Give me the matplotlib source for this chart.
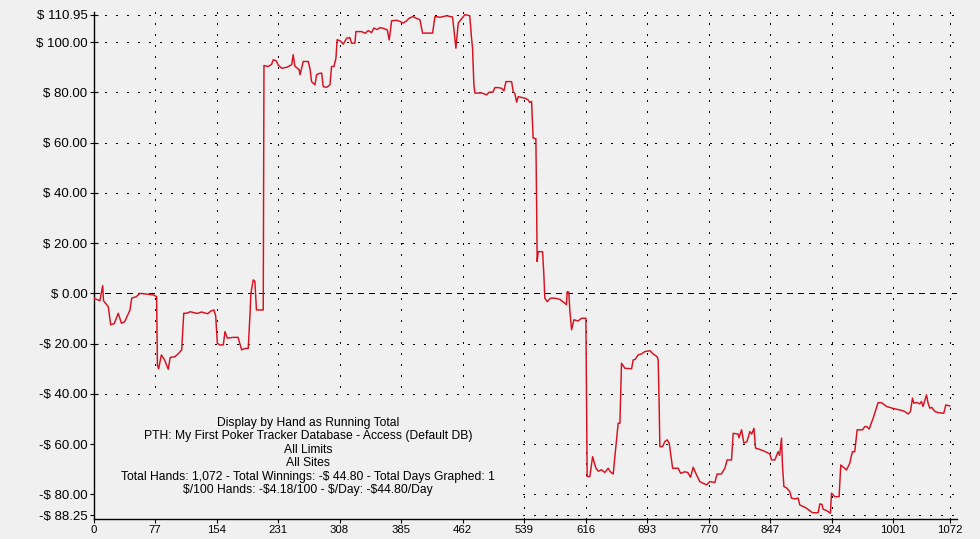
import matplotlib
matplotlib.use('Agg')
import matplotlib.pyplot as plt
from matplotlib.patches import Rectangle

# --- running total (hand number, winnings $) ---
hands = [0, 8, 11.5, 12.5, 18.5, 21.5, 26, 31, 35, 39, 45.7, 47.8, 53.6, 58, 64.5, 75, 79,
         80, 81.5, 85, 89, 93.6, 96, 102, 106.5, 110.4, 113, 117, 121, 130, 135, 143, 147,
         150.8, 153, 155, 158, 162.5, 164.6, 167.5, 175, 181, 183, 185.5, 189.6, 193.7, 196,
         197, 200, 202, 204, 212.5, 213.4, 218.8, 223, 225, 229, 231, 235.5, 242, 248, 250,
         252, 257.5, 258.5, 262.6, 268.8, 271, 273, 277.2, 279.3, 282, 285.6, 287.6, 291.8,
         296, 298, 301, 303.5, 305, 309.4, 312.6, 317, 321, 323, 327.3, 328.5, 335.7, 340,
         344, 348, 351, 355, 358.6, 364.8, 367.7, 370.2, 373.2, 379.5, 384, 387.7, 392, 395,
         400, 404, 408.6, 412, 418, 424.5, 427.4, 434, 442, 449.5, 451, 453.7, 456.6, 460,
         465, 471, 473.3, 474.5, 476.2, 477.5, 485.8, 490, 492, 495.4, 500, 502.5, 507, 511,
         513.8, 516.3, 523.4, 525.4, 527.5, 529.7, 531.7, 536, 540, 544.2, 546, 548.4, 550.4,
         553.8, 554.7, 555.4, 556.7, 562.2, 563.8, 565, 568, 572, 577.6, 584, 590, 592, 593,
         595, 596.4, 598.5, 601.4, 606.6, 611, 616.4, 618, 621.4, 624.8, 629, 632, 636, 640,
         644.3, 647, 650.6, 654, 656.8, 659, 661, 665.2, 673.6, 675.6, 678, 681.8, 686, 690,
         696.5, 700.6, 705.6, 706.9, 708.1, 709, 712.4, 715.3, 718.2, 720.7, 725, 732, 735,
         740.3, 744, 747.4, 750.7, 755, 759, 763.2, 767.5, 771.6, 777.8, 780.7, 785.9, 790.4,
         793.2, 798.7, 800.8, 807, 808, 811.3, 814.2, 818, 821.7, 824, 826.8, 828.8, 835,
         841, 846.7, 848.8, 853, 857, 859, 861.3, 862.6, 864.3, 868, 871.7, 873.8, 878, 882.1,
         884.2, 888, 892.6, 896.8, 900, 907.1, 909.3, 912, 913.4, 918, 922.6, 923.9, 928,
         933.4, 935.5, 940, 942.6, 946.8, 948.5, 950.2, 953, 956, 962.7, 965.6, 968, 971, 976,
         982.2, 986.5, 992.8, 1001, 1009.4, 1015.6, 1019.8, 1022.7, 1025.3, 1027, 1031,
         1034.4, 1036.5, 1038.5, 1040.7, 1042.8, 1044.8, 1047, 1049.5, 1053.2, 1058, 1064.4,
         1067, 1072]
winnings = [-1.9, -2.9, 3.1, -2.9, -5.3, -12.5, -12.0, -7.9, -11.9, -11.3, -6.6, -1.9, -1.3,
            0.0, -0.2, -0.6, -1.3, -28.5, -30.0, -24.5, -26.5, -30.2, -25.5, -25.2, -23.9,
            -22.5, -7.9, -7.9, -7.3, -8.0, -7.4, -8.1, -7.0, -6.6, -9.0, -19.8, -20.5, -20.5,
            -15.2, -17.8, -17.5, -17.5, -19.8, -22.5, -21.9, -21.9, -7.9, 0.0, 5.4, 4.8, -6.6,
            -6.6, 90.7, 90.3, 91.2, 93.0, 92.5, 91.0, 89.6, 90.0, 91.0, 95.0, 90.5, 89.0, 87.0,
            92.3, 92.3, 89.5, 84.3, 83.0, 87.0, 87.5, 87.7, 82.3, 82.0, 83.0, 90.3, 90.3, 93.6,
            101.0, 100.4, 99.2, 101.6, 101.8, 99.6, 99.6, 104.2, 104.2, 103.5, 104.6, 103.8,
            105.6, 105.0, 105.8, 105.3, 104.9, 100.9, 108.5, 108.7, 108.2, 107.6, 108.5, 109.5,
            110.2, 109.5, 108.9, 103.6, 103.6, 103.6, 110.2, 109.9, 110.5, 110.0, 105.6, 97.6,
            107.6, 109.0, 110.95, 110.5, 101.6, 97.6, 83.0, 79.7, 79.8, 79.3, 79.0, 80.1, 80.1,
            81.9, 81.9, 81.6, 80.6, 84.3, 84.3, 80.3, 79.5, 76.1, 78.3, 78.0, 77.7, 77.0, 76.0,
            76.4, 61.8, 61.6, 36.5, 12.7, 16.6, 16.6, 7.4, -1.9, -3.3, -1.9, -1.9, -2.4, -3.9,
            -4.5, 0.7, 0.5, -7.2, -14.5, -10.5, -11.0, -9.9, -9.9, -72.9, -72.9, -65.0, -69.6,
            -70.8, -70.2, -71.3, -69.6, -71.0, -71.9, -61.0, -51.7, -51.7, -27.8, -29.8, -30.0,
            -26.5, -26.3, -24.5, -24.1, -23.2, -22.8, -24.1, -25.2, -26.5, -43.7, -61.0, -61.0,
            -59.0, -58.3, -59.6, -69.6, -69.6, -71.6, -71.0, -71.3, -73.2, -69.2, -72.3, -74.9,
            -75.6, -76.2, -74.9, -75.3, -71.9, -71.9, -69.6, -66.3, -66.3, -55.7, -56.0, -57.5,
            -54.3, -59.6, -59.0, -55.0, -56.0, -53.7, -61.6, -62.2, -63.0, -63.9, -66.3, -66.3,
            -63.0, -64.5, -57.6, -69.0, -76.9, -77.5, -78.9, -81.5, -81.8, -81.5, -84.2, -84.8,
            -85.5, -86.5, -87.3, -87.3, -83.8, -84.0, -85.9, -86.5, -87.5, -79.5, -80.9, -80.9,
            -68.3, -69.5, -70.3, -67.6, -65.0, -63.0, -63.0, -54.3, -54.3, -53.0, -53.0, -54.0,
            -49.7, -43.5, -43.5, -45.0, -45.8, -46.4, -47.0, -48.0, -47.0, -41.7, -43.7, -43.4,
            -44.0, -43.0, -45.0, -42.7, -40.4, -43.7, -45.7, -45.4, -47.0, -47.5, -47.7, -44.4,
            -44.8]

# axis ticks
x_ticks = [0, 77, 154, 231, 308, 385, 462, 539, 616, 693, 770, 847, 924, 1001, 1072]
y_ticks = [-88.25, -80, -60, -40, -20, 0, 20, 40, 60, 80, 100, 110.95]

info_lines = [
    'Display by Hand as Running Total',
    'PTH: My First Poker Tracker Database - Access (Default DB)',
    'All Limits',
    'All Sites',
    'Total Hands: 1,072 - Total Winnings: -$ 44.80 - Total Days Graphed: 1',
    '$/100 Hands: -$4.18/100 - $/Day: -$44.80/Day',
]


def money(v):
    if v < 0:
        return '-$ %.2f' % abs(v)
    return '$ %.2f' % v


plt.rcParams['font.family'] = ['Liberation Sans', 'DejaVu Sans']
plt.rcParams['text.parse_math'] = False  # dollar signs are literal here
bg = '#f0f0f0'

fig = plt.figure(figsize=(9.8, 5.39), dpi=100, facecolor=bg)
ax = fig.add_axes([93.5 / 980, 1 - 519 / 539, (957 - 93.5) / 980, (519 - 12) / 539])
ax.set_facecolor(bg)

# grid: crisp dotted everywhere, dashed at zero
for yv in y_ticks:
    if yv == 0:
        ax.axhline(yv, color='black', lw=1.0, ls=(0, (3.6, 3.6)), zorder=1,
                   antialiased=False)
    else:
        ax.axhline(yv, color='black', lw=1.0, ls=(0, (1, 7)), zorder=1,
                   antialiased=False)
for xv in x_ticks[1:]:
    ax.axvline(xv, color='black', lw=1.0, ls=(0, (1, 7)), zorder=1, antialiased=False)

ax.set_xlim(0, 1081)
ax.set_ylim(-89.8, 112)

# the info block sits on a plain patch that hides the grid behind it
ax.add_patch(Rectangle((0, -89.8), 536, 48.6, facecolor=bg, edgecolor='none', zorder=2))

ax.plot(hands, winnings, color='#d8101f', lw=1.05, zorder=3)

ax.set_xticks(x_ticks)
ax.set_xticklabels([str(v) for v in x_ticks], fontsize=8.2)
ax.set_yticks(y_ticks)
ax.set_yticklabels([money(v) for v in y_ticks], fontsize=9.5)
ax.tick_params(axis='y', direction='inout', length=6, width=0.8, pad=1.5)
ax.tick_params(axis='x', direction='out', length=3, width=0.8, pad=1.5)

for side in ['top', 'right']:
    ax.spines[side].set_visible(False)
for side in ['left', 'bottom']:
    ax.spines[side].set_linewidth(1.0)

y0 = 422.7
for i, line in enumerate(info_lines):
    fig.text(308 / 980, 1 - (y0 + i * 13.5) / 539, line, ha='center', va='center',
             fontsize=8.75, color='black')

fig.savefig('out.png', dpi=100, facecolor=bg)
